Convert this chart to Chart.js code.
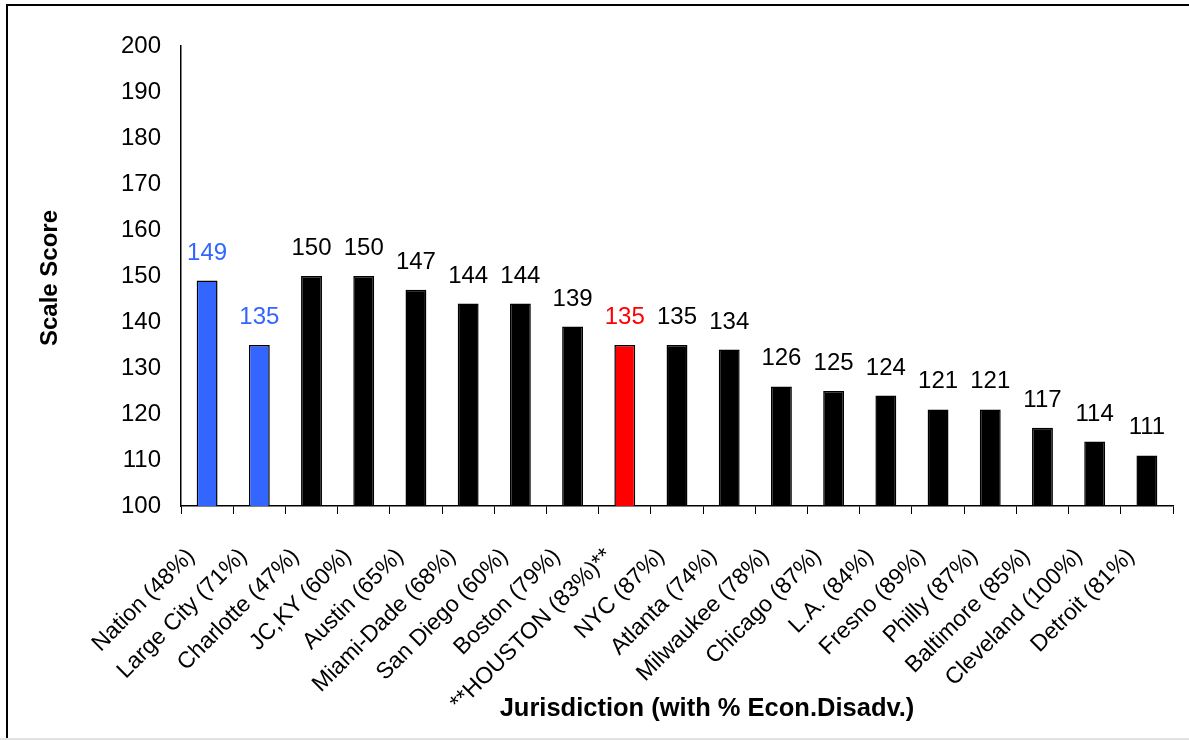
<!DOCTYPE html>
<html>
<head>
<meta charset="utf-8">
<script src="https://cdn.jsdelivr.net/npm/chart.js@4/dist/chart.umd.min.js"></script>
<style>
  html, body { margin: 0; padding: 0; background: #fff; }
  #wrap { width: 1189px; height: 740px; position: relative; }
</style>
</head>
<body>
<div id="wrap"><canvas id="c" width="1189" height="740"></canvas></div>
<script>
const categories = ["Nation (48%)", "Large City (71%)", "Charlotte (47%)", "JC,KY (60%)", "Austin (65%)",
  "Miami-Dade (68%)", "San Diego (60%)", "Boston (79%)", "**HOUSTON (83%)**", "NYC (87%)",
  "Atlanta (74%)", "Milwaukee (78%)", "Chicago (87%)", "L.A. (84%)", "Fresno (89%)",
  "Philly (87%)", "Baltimore (85%)", "Cleveland (100%)", "Detroit (81%)"];
const scores = [149, 135, 150, 150, 147, 144, 144, 139, 135, 135, 134, 126, 125, 124, 121, 121, 117, 114, 111];
const barColors = ["#3366FF", "#3366FF", "#000000", "#000000", "#000000", "#000000", "#000000", "#000000",
  "#FF0000", "#000000", "#000000", "#000000", "#000000", "#000000", "#000000", "#000000", "#000000", "#000000", "#000000"];
const labelColors = ["#3366FF", "#3366FF", "#000000", "#000000", "#000000", "#000000", "#000000", "#000000",
  "#FF0000", "#000000", "#000000", "#000000", "#000000", "#000000", "#000000", "#000000", "#000000", "#000000", "#000000"];
const yTicks = { min: 100, max: 200, step: 10 };
const yTitle = "Scale Score";
const xTitle = "Jurisdiction (with % Econ.Disadv.)";

const FONT = "'Liberation Sans', Arial, Helvetica, sans-serif";

const framePlugin = {
  id: 'frame',
  beforeDraw(chart) {
    const ctx = chart.ctx;
    ctx.save();
    ctx.fillStyle = '#ffffff';
    ctx.fillRect(0, 0, chart.width, chart.height);
    ctx.fillStyle = '#000000';
    ctx.fillRect(6, 4, chart.width - 6, 2);
    ctx.fillRect(6, 4, 2, chart.height - 4);
    ctx.fillStyle = '#e2e2e2';
    ctx.fillRect(0, chart.height - 2, chart.width, 2);
    ctx.restore();
  },
  afterDraw(chart) {
    const ctx = chart.ctx;
    ctx.save();
    ctx.fillStyle = '#000';
    ctx.textAlign = 'center';
    ctx.textBaseline = 'middle';
    ctx.font = "bold 25.5px " + FONT;
    ctx.fillText(xTitle, 707, 709);
    ctx.font = "bold 24px " + FONT;
    ctx.translate(50, 278);
    ctx.rotate(-Math.PI / 2);
    ctx.fillText(yTitle, 0, 0);
    ctx.restore();
  }
};

const valueLabels = {
  id: 'valueLabels',
  afterDatasetsDraw(chart) {
    const ctx = chart.ctx;
    const meta = chart.getDatasetMeta(0);
    ctx.save();
    ctx.font = "24px " + FONT;
    ctx.textAlign = 'center';
    ctx.textBaseline = 'alphabetic';
    meta.data.forEach((bar, i) => {
      ctx.fillStyle = labelColors[i];
      ctx.fillText(String(scores[i]), bar.x, bar.y - 21);
    });
    ctx.restore();
  }
};

new Chart(document.getElementById('c'), {
  type: 'bar',
  data: {
    labels: categories,
    datasets: [{
      data: scores,
      backgroundColor: barColors,
      borderColor: '#000000',
      borderWidth: 1.5,
      barPercentage: 0.4,
      categoryPercentage: 1.0
    }]
  },
  options: {
    responsive: false,
    animation: false,
    devicePixelRatio: 1,
    layout: { padding: { left: 0, top: 46, right: 16, bottom: 0 } },
    plugins: { legend: { display: false }, tooltip: { enabled: false } },
    scales: {
      x: {
        offset: true,
        grid: { display: true, drawOnChartArea: false, drawTicks: true, tickLength: 8, color: '#000', offset: true },
        border: { display: true, color: '#000', width: 1.5 },
        ticks: { color: '#000', font: { family: FONT, size: 23 }, minRotation: 45, maxRotation: 45, autoSkip: false, padding: 29, labelOffset: -16 },
        afterFit(scale) { scale.height = 234; scale.paddingLeft = 0; scale.paddingRight = 0; }
      },
      y: {
        min: yTicks.min, max: yTicks.max,
        grid: { display: false },
        border: { display: true, color: '#000', width: 1.5 },
        ticks: { stepSize: yTicks.step, color: '#000', font: { family: FONT, size: 24 }, padding: 12 },
        afterFit(scale) { scale.width = 181; scale.paddingTop = 0; scale.paddingBottom = 0; }
      }
    }
  },
  plugins: [framePlugin, valueLabels]
});
</script>
</body>
</html>
